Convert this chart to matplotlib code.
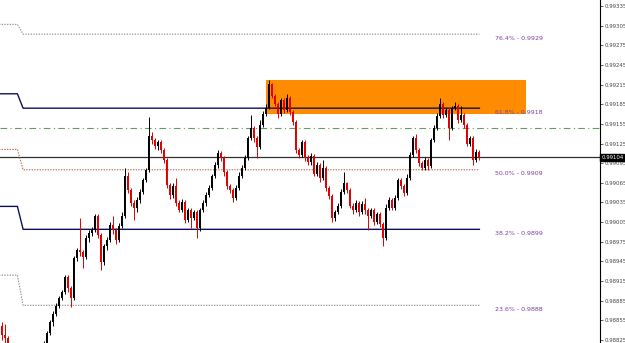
import matplotlib
matplotlib.use("Agg")
import matplotlib.pyplot as plt
import numpy as np

# prices in points (1 point = 0.00001)
PT = 1e-5
first_open = 98846
closes = [98832, 98828, 98816, 98806, 98794, 98782, 98776, 98779, 98770, 98773,
          98779, 98788, 98794, 98806, 98819, 98835, 98852, 98865, 98877, 98889,
          98898, 98921, 98904, 98889, 98950, 98963, 98959, 98951, 98981, 98988,
          98993, 99014, 98985, 98944, 98968, 98978, 99000, 98993, 98978, 98999,
          99015, 99076, 99054, 99034, 99026, 99039, 99051, 99069, 99084, 99137,
          99130, 99121, 99127, 99115, 99100, 99061, 99046, 99060, 99034, 99024,
          99036, 99008, 99023, 99011, 99020, 98996, 99023, 99034, 99046, 99057,
          99075, 99092, 99110, 99103, 99081, 99060, 99054, 99042, 99057, 99076,
          99087, 99103, 99133, 99149, 99133, 99119, 99153, 99170, 99180, 99216,
          99198, 99186, 99170, 99191, 99176, 99195, 99173, 99158, 99115, 99107,
          99127, 99103, 99097, 99106, 99079, 99092, 99072, 99087, 99057, 99045,
          99011, 99020, 99029, 99051, 99064, 99054, 99030, 99023, 99034, 99020,
          99032, 99023, 99014, 99023, 99005, 99017, 99002, 98981, 99027, 99039,
          99027, 99042, 99069, 99060, 99049, 99073, 99107, 99133, 99115, 99095,
          99088, 99100, 99091, 99130, 99149, 99167, 99185, 99168, 99176, 99149,
          99179, 99183, 99161, 99168, 99153, 99125, 99133, 99100, 99112, 99104]
highs = [98852, 98850, 98831, 98819, 98810, 98797, 98785, 98783, 98782, 98777,
         98782, 98791, 98798, 98810, 98823, 98838, 98856, 98869, 98881, 98892,
         98902, 98924, 98924, 98907, 98954, 98966, 99011, 98963, 98985, 98993,
         98997, 99017, 99017, 98988, 98972, 98982, 99005, 99015, 98996, 99003,
         99020, 99087, 99081, 99057, 99039, 99043, 99055, 99073, 99088, 99165,
         99142, 99134, 99131, 99130, 99118, 99103, 99064, 99064, 99072, 99039,
         99040, 99039, 99027, 99026, 99024, 99023, 99027, 99039, 99051, 99061,
         99079, 99097, 99115, 99113, 99106, 99084, 99063, 99057, 99061, 99081,
         99092, 99107, 99137, 99168, 99152, 99136, 99161, 99174, 99185, 99222,
         99217, 99201, 99189, 99195, 99194, 99201, 99198, 99176, 99161, 99118,
         99130, 99130, 99107, 99110, 99109, 99097, 99095, 99100, 99091, 99060,
         99048, 99024, 99034, 99055, 99081, 99067, 99057, 99034, 99039, 99037,
         99037, 99042, 99026, 99027, 99026, 99021, 99020, 99005, 99032, 99043,
         99042, 99046, 99073, 99072, 99063, 99078, 99112, 99137, 99140, 99118,
         99098, 99104, 99103, 99134, 99153, 99171, 99194, 99188, 99180, 99179,
         99183, 99188, 99186, 99183, 99171, 99156, 99137, 99136, 99116, 99115]
lows = [98825, 98820, 98810, 98800, 98789, 98777, 98771, 98773, 98764, 98767,
        98768, 98776, 98783, 98791, 98803, 98816, 98832, 98847, 98861, 98874,
        98886, 98895, 98899, 98875, 98886, 98945, 98953, 98935, 98948, 98975,
        98984, 98990, 98981, 98932, 98939, 98963, 98974, 98987, 98972, 98974,
        98996, 99011, 99049, 99029, 99008, 99021, 99034, 99048, 99066, 99081,
        99125, 99116, 99115, 99110, 99095, 99057, 99040, 99042, 99029, 99020,
        99020, 99003, 99005, 98996, 99008, 98981, 98991, 99020, 99030, 99043,
        99054, 99072, 99088, 99098, 99076, 99055, 99049, 99036, 99039, 99054,
        99073, 99084, 99100, 99130, 99128, 99103, 99116, 99150, 99167, 99177,
        99194, 99182, 99164, 99167, 99171, 99173, 99168, 99153, 99110, 99103,
        99104, 99098, 99092, 99092, 99075, 99076, 99067, 99069, 99052, 99040,
        99005, 99006, 99017, 99026, 99048, 99049, 99026, 99018, 99020, 99015,
        99017, 99018, 98993, 99011, 99000, 99002, 98997, 98969, 98978, 99024,
        99023, 99024, 99039, 99055, 99045, 99046, 99070, 99104, 99110, 99091,
        99084, 99085, 99084, 99087, 99127, 99145, 99164, 99164, 99165, 99130,
        99145, 99176, 99156, 99158, 99149, 99121, 99122, 99092, 99097, 99100]

# fibonacci levels: previous swing (left edge) and current swing
fib_names = ['76.4%', '61.8%', '50.0%', '38.2%', '23.6%']
fib_prev = [99307, 99201, 99116, 99029, 98924]
fib_now = [99292, 99179, 99085, 98994, 98878]
fib_text = ['0.9929', '0.9918', '0.9909', '0.9899', '0.9888']
fib_colors = ['#8a8a8a', '#10105a', '#b86a4a', '#10105a', '#8a8a8a']
fib_styles = [(0, (1.2, 1.2)), '-', (0, (1.2, 1.2)), '-', (0, (1.2, 1.2))]
fib_widths = [0.8, 1.0, 0.8, 1.0, 0.8]
fib_x = [-1, 5.3, 7.2, 159.3]

zone_top, zone_bottom = 99222, 99170
zone_start, zone_end = 88.2, 174.8
ma_level = 99149
bid = 99104
yticks = [99335 - 30 * k for k in range(18)]

closes = np.array(closes) * PT
highs = np.array(highs) * PT
lows = np.array(lows) * PT
opens = np.concatenate([[first_open * PT], closes[:-1]])
x = np.arange(len(closes))

fig = plt.figure(figsize=(6.25, 3.43), dpi=100)
ax = fig.add_axes([0, 0, 600 / 625, 1])

ax.axhspan(zone_bottom * PT, zone_top * PT,
           xmin=(zone_start + 0.5) / 200, xmax=(zone_end + 0.5) / 200,
           color='#ff8c00', lw=0, zorder=1)

ax.axhline(ma_level * PT, color='#5f9f5f', lw=0.8, ls=(0, (6, 3, 1, 3)), zorder=1.5)
ax.axhline(bid * PT, color='#303030', lw=0.9, zorder=1.5)

for i in range(len(fib_names)):
    lv = [fib_prev[i] * PT, fib_prev[i] * PT, fib_now[i] * PT, fib_now[i] * PT]
    ax.plot(fib_x, lv, color=fib_colors[i], ls=fib_styles[i], lw=fib_widths[i], zorder=2)
    ax.annotate(f'{fib_names[i]} - {fib_text[i]}', (164.5, fib_now[i] * PT),
                xytext=(0, -3), textcoords='offset points', va='center', ha='left',
                fontsize=4.5, color='#7b3fa0')

up = closes >= opens
cols = np.where(up, '#000000', '#e00000')
ax.vlines(x, lows, highs, colors=cols, lw=0.7, zorder=3)
body_lo = np.minimum(opens, closes)
body_h = np.maximum(np.abs(closes - opens), 0.4 * PT)
ax.bar(x, body_h, bottom=body_lo, width=0.6, color=cols, lw=0, zorder=3)

ax.set_xlim(-0.5, 199.5)
ax.set_ylim(0.988204, 0.993442)
ax.set_xticks([])
ax.yaxis.tick_right()
ax.set_yticks(np.array(yticks) * PT)
ax.set_yticklabels([f'{v * PT:.5f}' for v in yticks])
ax.tick_params(axis='y', direction='out', length=2, width=0.6, pad=1,
               labelsize=3.9, colors='#444444')
for s in ['left', 'top', 'bottom']:
    ax.spines[s].set_visible(False)
ax.spines['right'].set_linewidth(0.8)

ax.text(1.002, bid * PT, f'{bid * PT:.5f}', transform=ax.get_yaxis_transform(),
        va='center', ha='left', fontsize=3.9, color='white', clip_on=False, zorder=10,
        bbox=dict(boxstyle='square,pad=0.15', fc='black', ec='black'))

fig.savefig('out.png', dpi=100)
